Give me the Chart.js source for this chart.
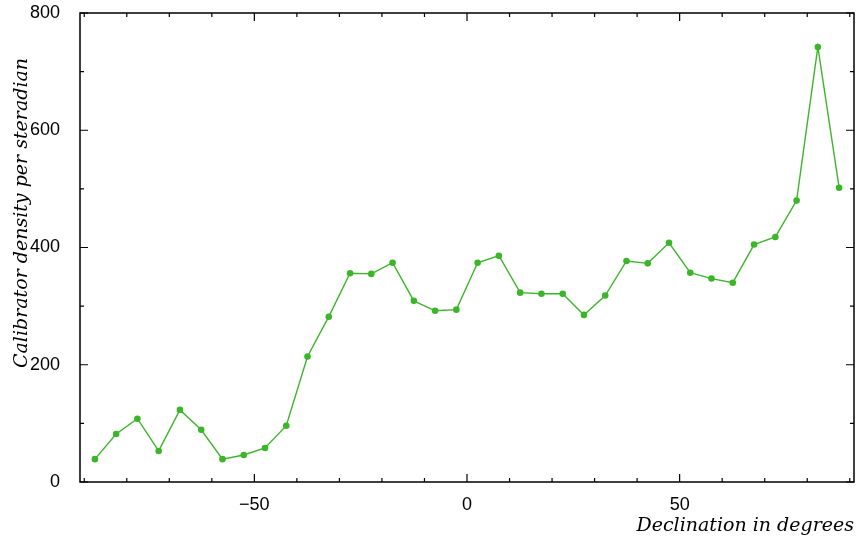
<!DOCTYPE html>
<html>
<head>
<meta charset="utf-8">
<script src="https://cdn.jsdelivr.net/npm/chart.js@4/dist/chart.umd.min.js"></script>
<style>
  html, body { margin: 0; padding: 0; background: #fff; }
  #wrap { width: 858px; height: 540px; }
</style>
</head>
<body>
<div id="wrap"><canvas id="declChart"></canvas></div>
<script>
const declinations = [
    -87.5, -82.5, -77.5, -72.5, -67.5, -62.5, -57.5, -52.5, -47.5, -42.5,
    -37.5, -32.5, -27.5, -22.5, -17.5, -12.5, -7.5, -2.5, 2.5, 7.5,
    12.5, 17.5, 22.5, 27.5, 32.5, 37.5, 42.5, 47.5, 52.5, 57.5,
    62.5, 67.5, 72.5, 77.5, 82.5, 87.5
];
const densities = [
    39, 82, 108, 53, 123, 89, 39, 46, 58, 96,
    214, 282, 356, 355, 374, 309, 292, 294, 374, 386,
    323, 321, 321, 285, 318, 377, 373, 408, 357, 347,
    340, 405, 418, 480, 742, 502
];
const xLabelTicks = [-50, 0, 50];
const yLabelTicks = [0, 200, 400, 600, 800];

const green = '#3db52a';
const tickFont = { family: '"Liberation Sans", Arial, sans-serif', size: 18 };
const titleFont = 'italic 19px "DejaVu Serif", serif';

// gnuplot-like frame with inward ticks on all sides
const framePlugin = {
    id: 'frame',
    afterDraw(chart) {
        const c = chart.ctx;
        const a = chart.chartArea;
        const xs = chart.scales.x;
        const ys = chart.scales.y;
        c.save();
        c.strokeStyle = '#000';
        c.lineWidth = 1.5;
        c.strokeRect(a.left, a.top, a.right - a.left, a.bottom - a.top);
        c.lineWidth = 1.2;
        c.beginPath();
        xs.ticks.forEach(t => {
            const px = xs.getPixelForValue(t.value);
            const len = xLabelTicks.includes(t.value) ? 8 : 4;
            c.moveTo(px, a.bottom); c.lineTo(px, a.bottom - len);
            c.moveTo(px, a.top); c.lineTo(px, a.top + len);
        });
        ys.ticks.forEach(t => {
            const py = ys.getPixelForValue(t.value);
            const len = yLabelTicks.includes(t.value) ? 8 : 4;
            c.moveTo(a.left, py); c.lineTo(a.left + len, py);
            c.moveTo(a.right, py); c.lineTo(a.right - len, py);
        });
        c.stroke();

        c.fillStyle = '#000';
        c.font = titleFont;
        c.textAlign = 'right';
        c.textBaseline = 'alphabetic';
        c.fillText('Declination in degrees', a.right, 531);
        c.translate(27, 213);
        c.rotate(-Math.PI / 2);
        c.textAlign = 'center';
        c.fillText('Calibrator density per steradian', 0, 0);
        c.restore();
    }
};

const ctx = document.getElementById('declChart').getContext('2d');

const declChart = new Chart(ctx, {
    type: 'line',
    data: {
        datasets: [{
            label: 'Calibrator density',
            data: declinations.map((d, i) => ({ x: d, y: densities[i] })),
            borderColor: green,
            backgroundColor: green,
            borderWidth: 1.4,
            pointRadius: 3.3,
            pointBorderWidth: 0,
            tension: 0
        }]
    },
    options: {
        responsive: true,
        maintainAspectRatio: false,
        animation: false,
        layout: { padding: { left: 0, right: 4, top: 13, bottom: 0 } },
        scales: {
            x: {
                type: 'linear',
                min: -91,
                max: 91,
                grid: { display: false },
                border: { display: false },
                ticks: {
                    stepSize: 10,
                    includeBounds: false,
                    autoSkip: false,
                    maxRotation: 0,
                    padding: 4,
                    color: '#000',
                    font: tickFont,
                    callback: v => xLabelTicks.includes(v) ? String(v).replace('-', '\u2212') : ''
                },
                afterFit: s => { s.height = 58; s.paddingLeft = 0; s.paddingRight = 0; }
            },
            y: {
                min: 0,
                max: 800,
                grid: { display: false },
                border: { display: false },
                ticks: {
                    stepSize: 100,
                    autoSkip: false,
                    padding: 12,
                    color: '#000',
                    font: tickFont,
                    callback: v => yLabelTicks.includes(v) ? String(v) : ''
                },
                afterFit: s => { s.width = 80; s.paddingTop = 0; s.paddingBottom = 0; }
            }
        },
        plugins: {
            legend: { display: false },
            title: { display: false },
            tooltip: { enabled: false }
        }
    },
    plugins: [framePlugin]
});
</script>
</body>
</html>
